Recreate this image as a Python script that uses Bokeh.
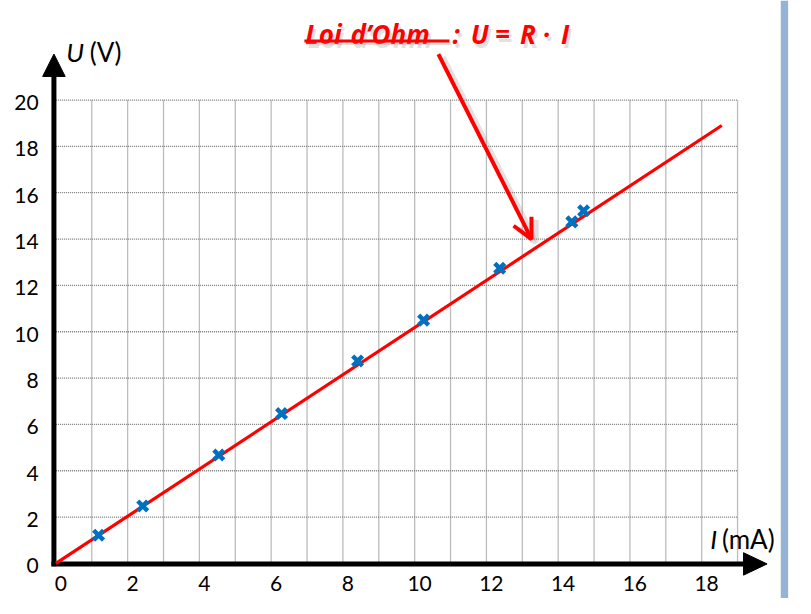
from bokeh.plotting import figure
from bokeh.models import Range1d, Arrow, OpenHead
from bokeh.core.properties import value
from bokeh.embed import file_html
from bokeh.resources import INLINE

# ---------------- data ----------------
current_mA = [1.19, 2.42, 4.54, 6.29, 8.41, 10.25, 12.37, 14.38, 14.71]
voltage_V = [1.22, 2.48, 4.68, 6.47, 8.74, 10.50, 12.74, 14.74, 15.22]
fit_I = [0, 18.56]
fit_U = [0, 18.9]
x_ticks = [0, 2, 4, 6, 8, 10, 12, 14, 16, 18]
y_ticks = [0, 2, 4, 6, 8, 10, 12, 14, 16, 18, 20]
x_grid = list(range(1, 20))
y_grid = [2, 4, 6, 8, 10, 12, 14, 16, 18, 20]
x_grid_max = 19
y_grid_max = 20
title_parts = ["Loi", "d\u2019Ohm", ":", "U", "=", "R", "\u00b7", "I"]

# ---------------- layout mapping (reference pixels -> data) ----------------
W, H = 795, 598
REF_W, REF_H = 811, 614
X0, SX = 56.5, 36.6
Y0, SY = 578.0, 23.79


def X(px):
    return (px - X0) / SX


def Y(py):
    return (Y0 - py) / SY


FONT = value("Lato")
TFONT = value("Open Sans")

p = figure(width=W, height=H, output_backend="svg", toolbar_location=None,
           x_range=Range1d(X(0), X(REF_W)), y_range=Range1d(Y(REF_H), Y(0)),
           x_axis_type=None, y_axis_type=None, min_border=0,
           outline_line_color=None, background_fill_color="white",
           border_fill_color="white")
p.xgrid.visible = False
p.ygrid.visible = False

# right blue border strip
p.quad(left=[X(796)], right=[X(803.5)], bottom=[Y(620)], top=[Y(0)],
       fill_color="#95B3D7", line_color=None)

# grid
GRID = dict(line_color="#7a7a7a", line_width=1.3, line_dash="1 1")
p.segment(x0=x_grid, y0=[0] * len(x_grid), x1=x_grid, y1=[y_grid_max] * len(x_grid), **GRID)
p.segment(x0=[0] * len(y_grid), y0=y_grid, x1=[x_grid_max] * len(y_grid), y1=y_grid, **GRID)

# axes with arrows
p.segment(x0=[X(54.5)], y0=[Y(581)], x1=[X(54.5)], y1=[Y(76)], line_color="black", line_width=5)
p.patch(x=[X(43), X(66), X(54.5)], y=[Y(78), Y(78), Y(55)], color="black")
p.segment(x0=[X(52)], y0=[Y(578.5)], x1=[X(760)], y1=[Y(578.5)], line_color="black", line_width=5)
p.patch(x=[X(758), X(758), X(782)], y=[Y(567), Y(590), Y(578.5)], color="black")

# tick labels
p.text(x=[t + X(61.5) - X(56.5) for t in x_ticks], y=[Y(599)] * len(x_ticks),
       text=[str(t) for t in x_ticks], text_font=FONT, text_font_size="21px",
       text_align="center", text_baseline="middle", text_color="black")
p.text(x=[X(39)] * len(y_ticks), y=[u + Y(580.5) - Y(578) for u in y_ticks],
       text=[str(t) for t in y_ticks], text_font=FONT, text_font_size="21px",
       text_align="right", text_baseline="middle", text_color="black")

# axis titles
p.text(x=[X(67)], y=[Y(53)], text=["U"], text_font=FONT, text_font_size="26px",
       text_font_style="italic", text_baseline="alphabetic")
p.text(x=[X(91)], y=[Y(53)], text=["(V)"], text_font=FONT, text_font_size="26px",
       text_baseline="alphabetic")
p.text(x=[X(724)], y=[Y(553)], text=["I"], text_font=FONT, text_font_size="26px",
       text_font_style="italic", text_baseline="alphabetic")
p.text(x=[X(736)], y=[Y(553)], text=["(mA)"], text_font=FONT, text_font_size="26px",
       text_baseline="alphabetic")

# fitted line and measurements
p.line(fit_I, fit_U, line_color="#FF0000", line_width=3.2)
p.scatter(current_mA, voltage_V, marker="x", size=14, line_width=4.5, line_color="#0070C0")

# title (letter-spaced pieces) with soft shadow and underline
title_x = [311, 357, 465, 489, 512, 538, 557, 576]
title_align = ["left", "left"] + ["center"] * 6
for dx, dy, col, alpha in [(2.5, 3.5, "#9a9a9a", 0.3), (0, 0, "#FF0000", 1.0)]:
    p.text(x=[X(t + dx) for t in title_x], y=[Y(34.5 + dy)] * len(title_x), text=title_parts,
           text_font=TFONT, text_font_size="26px", text_font_style="bold italic",
           text_align=title_align, text_baseline="alphabetic",
           text_color=col, text_alpha=alpha)
p.segment(x0=[X(312)], y0=[Y(44.5)], x1=[X(460)], y1=[Y(44.5)], line_color="#9a9a9a",
          line_width=3, line_alpha=0.3)
p.segment(x0=[X(310)], y0=[Y(41.5)], x1=[X(458)], y1=[Y(41.5)], line_color="#FF0000",
          line_width=3)

# arrow with shadow
p.add_layout(Arrow(x_start=X(451), y_start=Y(58), x_end=X(546), y_end=Y(248),
                   line_color="#9a9a9a", line_width=6, line_alpha=0.3,
                   end=OpenHead(size=20, line_color="#9a9a9a", line_width=6, line_alpha=0.3)))
p.add_layout(Arrow(x_start=X(446.7), y_start=Y(55), x_end=X(541.7), y_end=Y(245),
                   line_color="#FF0000", line_width=4,
                   end=OpenHead(size=20, line_color="#FF0000", line_width=4)))

open("out.html", "w").write(file_html(p, INLINE))
